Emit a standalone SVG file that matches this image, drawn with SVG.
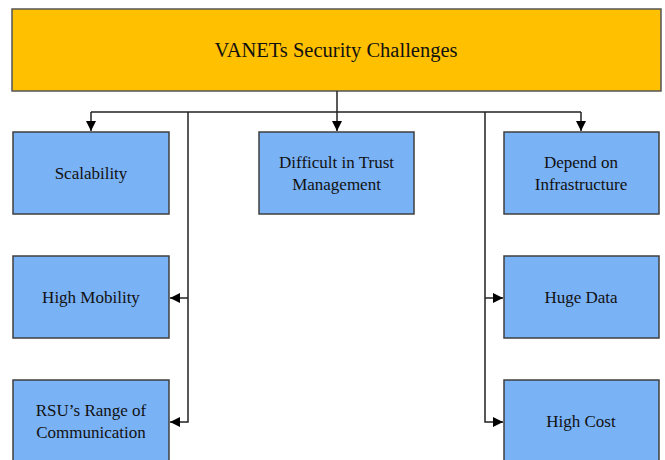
<svg xmlns="http://www.w3.org/2000/svg" width="665" height="460" viewBox="0 0 665 460">
<style>
.box{fill:#7ab2f6;stroke:#3f3f3f;stroke-width:1.5}
.lbl{font-family:"Liberation Serif",serif;font-size:17px;fill:#111;text-anchor:middle;dominant-baseline:central}
.ln{fill:none;stroke:#222;stroke-width:1.5}
</style>
<defs>
<marker id="ah" viewBox="0 0 10 10" refX="10" refY="5" markerWidth="10" markerHeight="10" markerUnits="userSpaceOnUse" orient="auto">
<path d="M0,0 L10,5 L0,10 z" fill="#000"/>
</marker>
</defs>
<rect width="665" height="460" fill="#fff"/>
<g id="root">
<rect x="12" y="9" width="649" height="82" fill="#ffc000" stroke="#555" stroke-width="1.5"/>
<text class="lbl" x="336" y="50" style="font-size:20.5px">VANETs Security Challenges</text>
</g>
<g id="connectors">
<path class="ln" d="M337,91 V131" marker-end="url(#ah)"/>
<path class="ln" d="M91,112 H581"/>
<path class="ln" d="M91,112 V131" marker-end="url(#ah)"/>
<path class="ln" d="M581,112 V131" marker-end="url(#ah)"/>
<path class="ln" d="M188,112 V422 H170" marker-end="url(#ah)"/>
<path class="ln" d="M188,298 H170" marker-end="url(#ah)"/>
<path class="ln" d="M485,112 V422 H503" marker-end="url(#ah)"/>
<path class="ln" d="M485,298 H503" marker-end="url(#ah)"/>
</g>
<g id="scalability">
<rect class="box" x="13" y="132" width="156" height="82"/>
<text class="lbl" x="91" y="173">Scalability</text>
</g>
<g id="trust">
<rect class="box" x="259" y="132" width="155" height="82"/>
<text class="lbl" x="336.5" y="162">Difficult in Trust</text>
<text class="lbl" x="336.5" y="184">Management</text>
</g>
<g id="infrastructure">
<rect class="box" x="504" y="132" width="155" height="82"/>
<text class="lbl" x="581" y="162">Depend on</text>
<text class="lbl" x="581" y="184">Infrastructure</text>
</g>
<g id="mobility">
<rect class="box" x="13" y="256" width="156" height="82"/>
<text class="lbl" x="91" y="297">High Mobility</text>
</g>
<g id="hugedata">
<rect class="box" x="504" y="256" width="155" height="82"/>
<text class="lbl" x="581" y="297">Huge Data</text>
</g>
<g id="rsu">
<rect class="box" x="13" y="380" width="156" height="82"/>
<text class="lbl" x="91" y="410">RSU’s Range of</text>
<text class="lbl" x="91" y="432">Communication</text>
</g>
<g id="cost">
<rect class="box" x="504" y="380" width="155" height="82"/>
<text class="lbl" x="581" y="421">High Cost</text>
</g>
</svg>
